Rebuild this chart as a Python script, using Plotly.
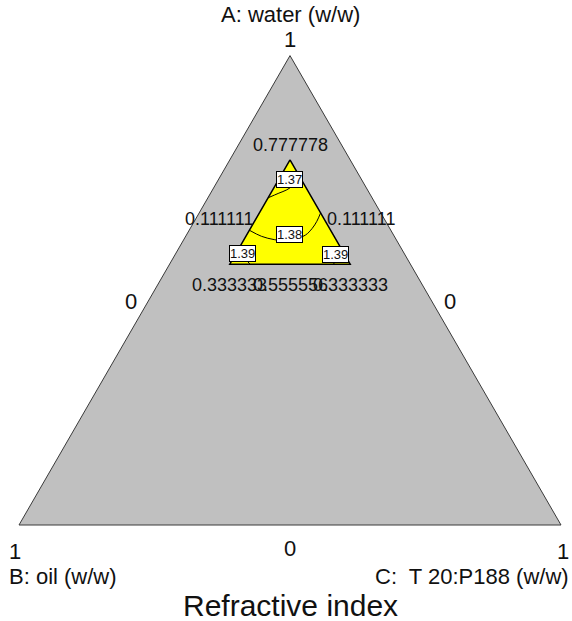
import math
import plotly.graph_objects as go

# design region in real components (A water, B oil, C T20:P188)
region_a = [0.777778, 0.555556, 0.555556, 0.777778]
region_b = [0.111111, 0.333333, 0.111111, 0.111111]

# refractive index contour lines (a, b; c = 1 - a - b)
contour_levels = ["1.37", "1.38", "1.39", "1.39"]
contour_a = [
    [0.697, 0.707, 0.714, 0.723, 0.738],
    [0.628, 0.615, 0.608, 0.605, 0.6175, 0.632, 0.647, 0.665],
    [0.587, 0.577, 0.5665, 0.5556],
    [0.589, 0.579, 0.567, 0.5556],
]
contour_b = [
    [0.192, 0.167, 0.149, 0.133, 0.111],
    [0.261, 0.245, 0.225, 0.2005, 0.163, 0.143, 0.127, 0.111],
    [0.302, 0.299, 0.2987, 0.2959],
    [0.111, 0.1227, 0.1331, 0.1415],
]

FONT = "Liberation Sans, Arial, sans-serif"
W_FIG, H_FIG = 572, 621
SIDE = 542
TRI_H = SIDE * math.sqrt(3) / 2
X_LEFT = (W_FIG - SIDE) / 2 + 4
Y_BOTTOM = 525


def tern_paper(a, b):
    # ternary point -> paper coords (same geometry plotly uses for the domain below)
    c = 1 - a - b
    x = X_LEFT + SIDE * (c + a * 0.5)
    y = Y_BOTTOM - TRI_H * a
    return x / W_FIG, 1 - y / H_FIG


fig = go.Figure()

fig.add_trace(go.Scatterternary(
    a=region_a, b=region_b, mode="lines", fill="toself",
    fillcolor="#ffff00", line=dict(color="black", width=1.5),
    hoverinfo="skip"))

for ca, cb in zip(contour_a, contour_b):
    fig.add_trace(go.Scatterternary(
        a=ca, b=cb, mode="lines", line=dict(color="black", width=1, shape="spline"),
        hoverinfo="skip"))

ann = []


def label(a, b, text, size, xa="center", ya="middle", dx=0, dy=0, **kw):
    x, y = tern_paper(a, b)
    ann.append(dict(x=x, y=y, xref="paper", yref="paper", text=text, showarrow=False,
                    xanchor=xa, yanchor=ya, xshift=dx, yshift=dy,
                    font=dict(family=FONT, size=size, color="#111"), **kw))


# corners and edges of the full simplex
label(1, 0, "A: water (w/w)", 22, dy=41)
label(1, 0, "1", 22, dy=16)
label(0, 1, "1", 22, xa="left", dy=-26, dx=-12)
label(0, 1, "B: oil (w/w)", 22, xa="left", dy=-51, dx=-12)
label(0, 0, "1", 22, xa="right", dy=-26, dx=10)
label(0, 0, "C:  T 20:P188 (w/w)", 22, xa="right", dy=-51, dx=10)
label(0, 0.5, "0", 22, dy=-23)
label(0.5, 0.5, "0", 22, dx=-24, dy=-11)
label(0.5, 0, "0", 22, dx=24, dy=-11)
label(0, 0.5, "Refractive index", 30, dy=-80)

# design region vertex values
top_a, low_a = region_a[0], region_a[1]
lo_b, hi_b = region_b[0], region_b[1]
mid_a = (top_a + low_a) / 2
label(top_a, lo_b, f"{top_a:.6f}", 18, ya="bottom", dy=3)
label(mid_a, (lo_b + hi_b) / 2, f"{lo_b:.6f}", 18, xa="right", dx=-5, dy=-7)
label(mid_a, lo_b, f"{lo_b:.6f}", 18, xa="left", dx=5, dy=-7)
label(low_a, hi_b, f"{hi_b:.6f}", 18, ya="top", dy=-9)
label(low_a, (lo_b + hi_b) / 2, f"{low_a:.6f}", 18, ya="top", dy=-9)
label(low_a, lo_b, f"{hi_b:.6f}", 18, ya="top", dy=-9)

# contour value boxes
box_pos = [(0.7356, 0.134), (0.6197, 0.1914), (0.5781, 0.2987), (0.5759, 0.1287)]
for (pa, pb), lev in zip(box_pos, contour_levels):
    label(pa, pb, lev, 13, bgcolor="white", bordercolor="black", borderwidth=1, borderpad=0)

axis = dict(showline=True, linecolor="#3a3a3a", linewidth=1, showgrid=False,
            showticklabels=False, ticks="", title=dict(text=""))

fig.update_layout(
    width=W_FIG, height=H_FIG,
    margin=dict(l=0, r=0, t=0, b=0),
    paper_bgcolor="white",
    showlegend=False,
    ternary=dict(
        sum=1,
        bgcolor="#c0c0c0",
        domain=dict(x=[X_LEFT / W_FIG, (X_LEFT + SIDE) / W_FIG],
                    y=[1 - Y_BOTTOM / H_FIG, 1 - (Y_BOTTOM - TRI_H) / H_FIG]),
        aaxis=axis, baxis=axis, caxis=axis,
    ),
    annotations=ann,
)

fig.write_html("out.html", config={"displayModeBar": False},
               post_script="document.body.style.margin='0';")
